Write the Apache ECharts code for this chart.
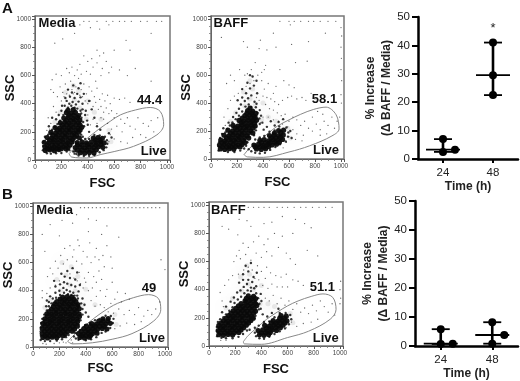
<!DOCTYPE html>
<html><head><meta charset="utf-8">
<script src="https://cdn.jsdelivr.net/npm/echarts@6/dist/echarts.min.js"></script>
<style>html,body{margin:0;background:#fff}#c{width:520px;height:381px}</style></head>
<body><div id="c"></div>
<script>
// ---- values (FSC, SSC) ----
const aMediaGate=[[258,45],[300,85],[367,132],[430,180],[494,226],[570,275],[646,320],[760,355],[873,373],[950,344],[975,250],[924,179],[747,97],[600,60],[494,38],[392,14],[278,21],[258,45]];
const aBaffGate=[[254,31],[300,80],[370,130],[440,185],[510,235],[600,280],[690,320],[790,355],[885,371],[962,317],[985,215],[930,165],[760,95],[600,50],[402,12],[280,15],[254,31]];
const bMediaGate=[[262,40],[300,75],[360,125],[430,180],[500,230],[580,280],[640,310],[760,350],[875,372],[950,345],[968,265],[915,185],[750,95],[600,55],[450,30],[300,22],[262,40]];
const bBaffGate=[[262,30],[300,75],[360,125],[440,190],[520,240],[600,285],[680,320],[780,352],[870,370],[945,345],[970,260],[925,190],[760,105],[600,60],[400,12],[270,15],[262,30]];

const aMediaCore=[[78,68],[112,72],[147,66],[182,74],[342,52],[376,48],[412,54],[447,50],[75,92],[110,88],[146,94],[180,90],[216,94],[250,88],[305,88],[340,92],[376,86],[410,92],[446,88],[480,94],[514,90],[70,126],[105,122],[140,128],[176,124],[210,128],[246,122],[280,128],[320,124],[356,128],[390,122],[426,128],[460,124],[496,128],[524,122],[92,160],[126,156],[160,162],[196,158],[230,162],[266,156],[300,162],[336,158],[442,156],[476,160],[510,154],[120,196],[156,192],[190,198],[226,194],[260,198],[296,192],[330,198],[152,230],[186,226],[220,232],[256,228],[290,232],[326,226],[354,232],[192,264],[226,268],[260,262],[296,268],[330,264],[218,298],[252,302],[286,296],[322,302],[238,336],[272,332],[306,338],
[95,80],[130,80],[165,80],[200,80],[235,80],[322,70],[358,70],[394,70],[430,70],[465,72],[90,108],[128,108],[162,108],[198,110],[232,108],[266,106],[322,108],[358,106],[394,108],[428,106],[464,108],[498,110],[110,142],[145,142],[178,142],[212,144],[248,140],[284,144],[458,142],[492,142],[136,176],[172,176],[208,178],[244,176],[280,178],[314,176],[170,212],[204,212],[240,212],[274,214],[310,210],[342,214],[206,248],[240,248],[274,246],[310,248],[342,248],[236,282],[270,282],[306,284],[340,282],[256,318],[292,318],[330,316],[250,352],[290,358]];
const aMediaHalo=[[60,70],[62,100],[65,130],[75,165],[100,180],[125,190],[130,215],[150,235],[170,255],[190,280],[215,320],[235,350],[250,372],[275,385],[300,372],[320,365],[345,350],[350,330],[352,300],[365,270],[372,240],[350,180],[362,165],[290,60],[300,45],[260,70],[240,60],[200,50],[160,48],[120,45],[90,48],[300,62],[315,42],[330,32],[370,28],[410,30],[450,35],[490,55],[520,70],[540,90],[548,115],[545,140],[530,165],[490,175],[450,178],[410,150],[380,150],[350,145],[260,400],[285,412],[310,395],[330,415],[240,420],[225,385],[200,350],[180,320],[160,290],[360,360],[380,320],[395,280],[300,440],[345,445],[265,450],[320,470],[280,480],[360,400],[385,350],[400,250],[410,200],[230,440],[205,385],[250,500],[290,530],[330,510],[370,470],[345,545],[410,420],[430,360],[450,300],[470,240],[495,215],[560,190],[580,160],[130,300],[105,240]];
const aMediaFine=[[150,830],[210,860],[300,900],[340,960],[420,940],[490,930],[560,960],[640,985],[730,985],[800,985],[850,985],[920,985],[960,985],[370,985],[410,985],[470,985],[540,985],[590,985],[680,985],[880,900],[720,780],[690,850],[600,780],[470,780],[490,740],[520,760],[540,700],[560,620],[510,650],[470,690],[430,720],[400,700],[370,740],[340,680],[320,640],[280,660],[260,620],[240,650],[200,600],[130,570],[160,610],[300,600],[350,610],[390,630],[420,610],[440,660],[500,600],[460,560],[580,660],[640,640],[700,600],[760,650],[880,560],[120,500],[140,480],[170,450],[190,520],[210,480],[230,540],[250,500],[270,560],[290,470],[310,520],[330,580],[350,500],[370,540],[390,470],[410,520],[430,490],[450,450],[470,510],[490,430],[510,470],[530,420],[550,460],[570,400],[600,440],[640,430],[680,440],[720,410],[200,420],[220,450],[240,470],[260,460],[280,500],[300,480],[320,470],[340,460],[360,450],[380,420],[400,400],[420,420],[440,380],[460,410],[480,360],[500,380],[520,340],[540,370],[560,330],[580,350],[600,300],[620,330],[650,290],[680,260],[700,300],[720,240],[760,220],[800,180],[820,260],[860,240],[880,280],[900,200],[930,300],[780,300],[840,160],[740,160],[660,200],[620,240],[580,220],[550,260],[520,290],[500,300],[470,260],[440,290],[420,250],[400,320],[370,240],[100,300],[120,260],[110,220],[140,380],[160,340],[90,210],[570,180],[600,150],[650,130],[700,120],[560,130]];
const aMediaCloud=[[300,430],[250,370],[340,370],[230,480],[330,490],[400,420],[450,340],[190,340],[150,270],[390,290],[500,290],[560,210],[575,130],[290,530]];

const aBaffCore=[[72,72],[106,68],[140,74],[175,70],[350,72],[386,68],[420,74],[65,100],[100,104],[136,98],[170,104],[206,100],[240,104],[330,100],[366,104],[400,98],[436,104],[470,100],[504,106],[75,136],[110,132],[146,138],[180,134],[216,138],[250,132],[376,134],[410,138],[446,132],[480,138],[516,134],[550,140],[100,170],[136,166],[170,172],[206,168],[240,172],[276,166],[450,168],[486,172],[520,168],[556,172],[130,206],[166,202],[200,208],[236,204],[270,208],[306,202],[520,204],[558,206],[170,240],[206,236],[240,242],[276,238],[310,242],[340,236],[216,276],[250,272],[286,278],[320,274],[350,278],[260,310],[296,314],[330,308],[282,346],[320,342],
[88,86],[122,86],[156,86],[190,88],[224,86],[340,86],[374,86],[408,86],[444,88],[84,118],[118,118],[152,118],[190,120],[228,118],[262,118],[388,118],[422,118],[456,118],[492,120],[526,120],[118,152],[152,152],[188,152],[222,154],[258,152],[290,150],[464,152],[498,152],[534,154],[150,186],[184,186],[218,188],[252,186],[288,186],[322,186],[488,186],[538,188],[186,222],[222,222],[256,224],[290,222],[324,222],[232,258],[268,256],[304,258],[336,258],[240,292],[276,294],[310,292],[340,296],[276,328],[312,328],[345,326],[300,365]];
const aBaffHalo=[[58,60],[60,90],[62,120],[70,150],[85,180],[110,190],[125,215],[145,240],[165,262],[190,285],[215,310],[240,340],[265,375],[290,390],[310,372],[345,370],[358,330],[372,290],[375,250],[345,205],[330,170],[295,160],[280,120],[270,95],[255,75],[225,60],[180,50],[130,50],[290,70],[310,55],[340,45],[375,40],[415,45],[455,65],[495,85],[530,105],[575,125],[592,160],[595,190],[580,225],[525,232],[490,205],[450,195],[410,165],[375,155],[340,140],[230,390],[260,415],[285,435],[310,455],[335,410],[270,470],[240,440],[215,360],[195,330],[170,300],[350,395],[375,350],[300,505],[330,525],[355,470],[280,545],[385,310],[395,260],[405,210],[430,230],[240,500],[205,420],[350,560],[320,590],[300,600],[460,270],[490,240],[520,265],[555,285],[610,200],[620,150],[135,260],[95,220]];
const aBaffFine=[[530,985],[600,985],[640,985],[690,985],[750,985],[790,985],[840,985],[900,985],[960,985],[1000,940],[1005,880],[1000,800],[1003,720],[1000,640],[1005,560],[1000,460],[1003,400],[80,870],[250,840],[150,600],[380,850],[480,900],[610,960],[880,900],[750,840],[620,820],[500,800],[430,780],[370,790],[280,800],[740,700],[650,690],[530,640],[420,670],[410,640],[390,620],[340,690],[310,640],[280,610],[260,600],[220,640],[180,560],[120,540],[440,540],[410,500],[390,560],[360,600],[330,560],[300,540],[270,520],[240,500],[210,470],[180,450],[150,420],[130,360],[100,300],[110,240],[400,450],[430,440],[460,430],[490,410],[520,390],[550,420],[590,440],[620,450],[660,430],[700,440],[730,420],[770,470],[800,430],[560,560],[600,530],[640,510],[500,520],[480,470],[370,420],[350,440],[420,390],[450,360],[480,350],[510,330],[540,310],[570,320],[600,270],[630,300],[660,280],[690,240],[720,270],[750,220],[780,200],[810,250],[840,210],[870,270],[900,240],[930,300],[950,220],[970,270],[990,300],[780,300],[820,340],[860,320],[890,180],[840,170],[710,170],[660,180],[630,210],[590,230],[550,250],[520,270],[480,280],[440,300],[400,300],[380,260],[350,230],[600,160],[650,140],[700,130],[580,120],[555,80]];
const aBaffCloud=[[300,430],[260,380],[340,390],[250,480],[320,500],[400,400],[440,300],[190,330],[150,270],[390,280],[500,270],[590,220],[610,150],[300,560]];

const bMediaCore=[[75,68],[110,64],[145,70],[180,66],[355,68],[390,64],[425,70],[70,96],[105,92],[140,98],[175,94],[210,98],[245,92],[345,96],[380,92],[415,98],[450,94],[485,98],[70,130],[105,126],[140,132],[175,128],[210,132],[245,126],[280,132],[315,128],[385,130],[420,126],[455,132],[490,128],[525,132],[560,128],[75,166],[110,162],[145,168],[180,164],[215,168],[250,162],[285,168],[320,164],[445,166],[480,162],[515,168],[550,164],[585,168],[90,200],[125,196],[160,202],[195,198],[230,202],[265,196],[300,202],[335,198],[530,200],[570,202],[105,236],[140,232],[175,238],[210,234],[245,238],[280,232],[315,238],[350,234],[140,270],[175,266],[210,272],[245,268],[280,272],[315,266],[350,272],[165,306],[200,302],[235,308],[270,304],[305,308],[340,302],[205,340],[240,336],[275,342],[310,338],
[90,80],[125,80],[160,80],[195,82],[228,80],[368,80],[402,80],[436,82],[88,112],[122,112],[158,112],[192,114],[228,112],[262,110],[298,112],[365,112],[400,112],[434,112],[468,114],[90,148],[125,148],[160,148],[195,148],[230,146],[266,148],[302,146],[336,148],[405,148],[438,148],[472,148],[506,148],[540,148],[92,182],[128,182],[162,184],[198,182],[232,184],[268,182],[302,184],[338,182],[498,184],[532,184],[566,186],[108,218],[143,218],[178,218],[212,218],[248,220],[284,218],[318,220],[352,216],[122,252],[158,252],[192,252],[228,254],[262,252],[298,252],[332,254],[155,288],[190,286],[226,288],[262,288],[298,288],[334,288],[180,322],[218,322],[254,324],[290,322],[325,322],[225,355],[260,358],[295,355]];
const bMediaHalo=[[58,50],[60,80],[58,110],[60,140],[62,170],[70,200],[85,230],[105,260],[120,290],[140,310],[175,350],[205,370],[235,385],[265,375],[290,370],[315,365],[340,345],[365,310],[375,270],[375,230],[360,190],[345,160],[320,100],[270,85],[250,70],[220,55],[180,45],[130,42],[90,42],[310,75],[325,60],[345,52],[400,48],[440,55],[480,70],[520,100],[550,110],[585,135],[605,170],[610,200],[590,220],[550,222],[505,200],[470,190],[430,170],[395,155],[355,120],[170,385],[200,400],[230,420],[255,405],[280,395],[305,385],[335,365],[150,345],[120,320],[100,290],[260,450],[290,440],[320,430],[235,460],[205,445],[345,395],[375,345],[390,300],[400,245],[420,215],[170,430],[240,500],[280,490],[320,480],[355,440],[160,470],[130,360],[105,330],[215,520],[260,540],[300,560],[335,530]];
const bMediaFine=[[360,990],[390,990],[420,990],[450,990],[480,990],[510,990],[540,990],[570,990],[600,990],[630,990],[660,990],[690,990],[720,990],[750,990],[780,990],[810,990],[840,990],[870,990],[900,990],[930,990],[960,990],[330,940],[420,910],[480,900],[300,880],[220,900],[130,870],[70,800],[200,790],[340,760],[420,820],[520,800],[560,860],[650,780],[560,720],[480,700],[430,740],[380,680],[350,720],[310,690],[280,720],[240,700],[210,650],[170,610],[130,560],[90,680],[110,500],[150,520],[190,560],[230,590],[260,620],[300,640],[330,610],[370,590],[410,640],[440,600],[470,640],[500,620],[530,650],[590,640],[600,560],[540,570],[500,540],[460,500],[420,530],[390,490],[350,530],[310,490],[280,520],[240,500],[200,470],[170,440],[70,350],[70,400],[105,380],[130,420],[480,460],[520,480],[560,410],[600,460],[640,390],[700,380],[730,340],[670,320],[620,340],[590,310],[550,360],[510,400],[480,360],[450,420],[420,400],[380,420],[360,450],[335,470],[400,460],[440,330],[470,290],[510,300],[540,280],[570,250],[610,240],[650,270],[690,230],[730,260],[770,230],[800,280],[840,220],[870,260],[900,230],[930,270],[960,320],[820,180],[770,160],[710,170],[660,150],[620,130],[1000,550],[970,620],[250,30],[290,50],[300,30],[200,30],[160,25],[100,20],[75,25],[230,35]];
const bMediaCloud=[[280,440],[210,400],[320,400],[180,480],[250,510],[340,500],[400,410],[130,330],[90,280],[380,300],[470,300],[620,230],[630,160],[290,570],[220,600]];

const bBaffCore=[[75,80],[110,76],[145,82],[180,78],[385,80],[420,76],[455,82],[70,110],[105,114],[140,108],[175,114],[210,110],[245,114],[375,110],[410,114],[445,108],[480,114],[515,110],[75,146],[110,142],[145,148],[180,144],[215,148],[250,142],[285,148],[425,146],[460,142],[495,148],[530,144],[565,148],[110,180],[145,176],[180,182],[215,178],[250,182],[285,176],[320,182],[490,180],[525,176],[560,182],[595,178],[150,216],[185,212],[220,218],[255,214],[290,218],[325,212],[550,216],[590,212],[185,250],[220,246],[255,252],[290,248],[325,252],[355,246],[225,286],[260,282],[295,288],[330,284],[365,288],[275,320],[310,324],[345,318],[300,356],[340,352],
[88,94],[122,94],[158,94],[194,94],[228,96],[398,94],[432,94],[468,96],[88,128],[122,128],[158,128],[194,130],[230,128],[265,130],[440,128],[476,128],[510,130],[545,130],[92,162],[128,162],[162,164],[198,162],[234,164],[268,162],[302,164],[476,164],[510,164],[545,164],[580,164],[130,198],[165,198],[200,200],[236,198],[270,200],[305,198],[338,198],[540,198],[575,198],[168,232],[202,234],[238,232],[272,234],[308,232],[340,232],[205,268],[240,266],[275,268],[310,268],[345,268],[245,302],[282,304],[318,302],[355,302],[285,338],[322,338],[355,336]];
const bBaffHalo=[[62,70],[62,105],[60,135],[68,170],[85,190],[110,205],[130,225],[155,250],[180,275],[195,305],[220,330],[245,350],[270,375],[295,395],[320,390],[360,375],[375,340],[385,300],[380,260],[355,215],[345,195],[310,115],[290,110],[260,85],[225,65],[180,55],[130,55],[95,58],[350,95],[360,70],[385,55],[420,52],[460,65],[500,85],[540,105],[580,125],[610,155],[628,190],[620,220],[585,235],[540,235],[500,205],[460,175],[420,170],[380,145],[350,130],[240,395],[265,420],[290,440],[320,415],[345,410],[215,380],[190,345],[165,315],[300,470],[330,455],[260,470],[360,425],[395,370],[400,320],[395,265],[410,225],[445,210],[480,235],[530,265],[230,450],[260,510],[300,530],[340,490],[365,520],[280,570],[320,590],[130,280],[100,240]];
const bBaffFine=[[300,985],[340,985],[380,985],[420,985],[460,985],[520,985],[560,985],[600,985],[650,985],[700,985],[740,985],[790,985],[840,985],[890,985],[940,985],[230,900],[290,890],[150,830],[220,790],[100,850],[320,850],[420,870],[480,880],[560,920],[660,900],[730,870],[780,840],[640,800],[560,780],[500,800],[450,760],[420,720],[380,780],[340,740],[300,700],[260,730],[230,680],[210,640],[190,600],[240,620],[280,650],[320,610],[360,660],[400,630],[440,670],[480,640],[530,700],[590,660],[620,620],[660,580],[750,680],[830,640],[440,560],[400,530],[370,570],[330,540],[300,560],[265,540],[225,510],[180,500],[150,470],[120,430],[85,380],[100,320],[110,280],[430,480],[470,520],[510,500],[550,490],[590,510],[640,470],[680,460],[720,430],[600,420],[560,420],[520,420],[480,440],[450,410],[410,430],[380,470],[350,480],[430,340],[460,320],[490,360],[520,300],[550,340],[580,290],[610,320],[640,260],[670,300],[700,240],[730,270],[760,230],[790,290],[820,250],[850,320],[880,280],[910,240],[940,300],[960,220],[1000,300],[1005,340],[1000,400],[1005,460],[830,190],[780,170],[720,160],[670,140],[630,170],[590,130],[90,40],[130,40]];
const bBaffCloud=[[300,440],[250,390],[340,400],[240,490],[310,510],[400,430],[450,300],[180,340],[130,270],[390,300],[500,280],[620,230],[640,165],[290,570]];

const panelTexts={aMedia:['Media','44.4','Live'],aBaff:['BAFF','58.1','Live'],bMedia:['Media','49','Live'],bBaff:['BAFF','51.1','Live']};
const panelTextAt={aMedia:[[167,969],[868,420],[900,61]],aBaff:[[153,967],[873,424],[885,62]],bMedia:[[164,967],[879,419],[902,59]],bBaff:[[147,962],[865,417],[891,52]]};

const timeLabels=['24','48'];
const topRows=[[0,2.5,3.3,7],[1,22.5,29.5,41]];       // time, low, median, high
const bottomRows=[[0,0.7,0.8,5.8],[1,0.8,3.8,8.2]];
const topPoints=[[0,7],[0,2.5],[0,3.3],[1,41],[1,29.5],[1,22.5]];
const bottomPoints=[[0,5.8],[0,0.7],[0,0.8],[1,8.2],[1,0.8],[1,3.8]];
const topSideways=[0,0,12,0,0,0];       // points nudged aside so they do not overlap
const bottomSideways=[0,0,12,0,0,12];

const FONT='"Liberation Sans", Arial, sans-serif';
const grids=[],xAxes=[],yAxes=[],series=[];

function scatterPanel(box,gaps,gate,fine,halo,core,cloud,key){
  const i=grids.length;
  grids.push({left:box[0],top:box[1],width:box[2],height:box[3],outerBoundsMode:'none',show:true,borderColor:'#777',borderWidth:1.5,backgroundColor:'#fff'});
  const ax=(name,gap)=>({type:'value',gridIndex:i,min:0,max:1023,interval:200,name:name,nameLocation:'middle',nameGap:gap,nameMoveOverlap:false,
    nameTextStyle:{fontFamily:FONT,fontWeight:'bold',fontSize:13,color:'#111'},
    axisLine:{show:true,lineStyle:{color:'#666',width:1}},
    axisTick:{show:true,length:3,lineStyle:{color:'#555',width:1}},
    minorTick:{show:true,splitNumber:4,length:2,lineStyle:{color:'#777',width:.8}},
    splitLine:{show:false},
    axisLabel:{fontFamily:FONT,fontSize:6.5,color:'#444',margin:4,showMaxLabel:false,formatter:v=>String(v)}});
  xAxes.push(ax('FSC',gaps[0])); yAxes.push(ax('SSC',gaps[1]));
  const base={xAxisIndex:i,yAxisIndex:i,silent:true};
  series.push(Object.assign({type:'scatter',data:cloud,symbolSize:5,itemStyle:{color:'#999',opacity:.2,shadowBlur:16,shadowColor:'rgba(20,20,20,1)'},z:1},base));
  series.push(Object.assign({type:'line',data:gate,smooth:.35,showSymbol:false,lineStyle:{color:'#888',width:1},z:2},base));
  series.push(Object.assign({type:'scatter',data:fine,symbolSize:1.3,itemStyle:{color:'#333',opacity:.75},z:3},base));
  series.push(Object.assign({type:'scatter',data:halo,symbolSize:2.4,itemStyle:{color:'#111',opacity:.85},z:3},base));
  series.push(Object.assign({type:'scatter',data:core,symbolSize:5.2,itemStyle:{color:'#0a0a0a',opacity:.95},z:4},base));
  series.push(Object.assign({type:'scatter',symbolSize:0,z:6,itemStyle:{opacity:1},
    data:panelTextAt[key].map((p,k)=>({value:p,label:{show:true,position:'inside',formatter:panelTexts[key][k],fontFamily:FONT,fontWeight:'bold',fontSize:13,color:'#111',textBorderWidth:0}}))},base));
}
function resultPanel(box,rows,points,side,star){
  const i=grids.length;
  grids.push({left:box[0],top:box[1],width:box[2],height:box[3],outerBoundsMode:'none'});
  xAxes.push({type:'category',gridIndex:i,data:timeLabels,name:'Time (h)',nameLocation:'middle',nameGap:22,nameMoveOverlap:false,
    nameTextStyle:{fontFamily:FONT,fontSize:12,fontWeight:'bold',color:'#222'},
    axisLine:{show:true,lineStyle:{color:'#000',width:2.5}},
    axisTick:{show:true,alignWithLabel:true,length:4,lineStyle:{color:'#000',width:2}},
    axisLabel:{fontFamily:FONT,fontSize:11.5,color:'#222',margin:8}});
  yAxes.push({type:'value',gridIndex:i,min:0,max:50,interval:10,name:'% Increase\n(\u0394 BAFF / Media)',nameLocation:'middle',nameGap:23,nameMoveOverlap:false,
    nameTextStyle:{fontFamily:FONT,fontSize:12,fontWeight:'bold',color:'#222',lineHeight:16},
    axisLine:{show:true,lineStyle:{color:'#000',width:2.5}},
    axisTick:{show:true,length:6,lineStyle:{color:'#000',width:2}},
    splitLine:{show:false},
    axisLabel:{fontFamily:FONT,fontSize:11.5,color:'#222',margin:8}});
  series.push({type:'custom',xAxisIndex:i,yAxisIndex:i,data:rows,z:5,silent:true,clip:false,
    renderItem:(p,api)=>{
      const x=api.coord([api.value(0),0])[0];
      const lo=api.coord([0,api.value(1)])[1],md=api.coord([0,api.value(2)])[1],hi=api.coord([0,api.value(3)])[1];
      const seg=(a,b,c,d,w)=>({type:'line',shape:{x1:a,y1:b,x2:c,y2:d},style:{stroke:'#000',lineWidth:w}});
      return {type:'group',children:[seg(x,lo,x,hi,2.6),seg(x-9,lo,x+9,lo,1.8),seg(x-9,hi,x+9,hi,1.8),seg(x-17,md,x+17,md,1.8)]};
    }});
  series.push({type:'scatter',xAxisIndex:i,yAxisIndex:i,clip:false,silent:true,symbolSize:8,z:6,itemStyle:{color:'#000',opacity:1},
    data:points.map((p,k)=>({value:p,symbolOffset:[side[k],0]}))});
  if(star) series.push({type:'scatter',xAxisIndex:i,yAxisIndex:i,symbolSize:0,silent:true,z:6,itemStyle:{opacity:1},
    data:[{value:star,label:{show:true,position:'inside',formatter:'*',fontFamily:FONT,fontSize:13,color:'#222',textBorderWidth:0}}]});
}
scatterPanel([35,16,135,144],[17,18],aMediaGate,aMediaFine,aMediaHalo,aMediaCore,aMediaCloud,'aMedia');
scatterPanel([211,16,133,143],[17,18],aBaffGate,aBaffFine,aBaffHalo,aBaffCore,aBaffCloud,'aBaff');
scatterPanel([33,203,135,144],[15,18],bMediaGate,bMediaFine,bMediaHalo,bMediaCore,bMediaCloud,'bMedia');
scatterPanel([209,202,134,144],[17,18],bBaffGate,bBaffFine,bBaffHalo,bBaffCore,bBaffCloud,'bBaff');
resultPanel([418,17,100,142],topRows,topPoints,topSideways,[1,46]);
resultPanel([415,201,103,145],bottomRows,bottomPoints,bottomSideways,null);

const chart=echarts.init(document.getElementById('c'),null,{renderer:'canvas'});
chart.setOption({animation:false,backgroundColor:'#fff',grid:grids,xAxis:xAxes,yAxis:yAxes,series:series,
  graphic:[{type:'text',left:2,top:1,style:{text:'A',font:'bold 15px '+FONT,fill:'#111'}},
           {type:'text',left:2,top:187,style:{text:'B',font:'bold 15px '+FONT,fill:'#111'}}]});
</script></body></html>
